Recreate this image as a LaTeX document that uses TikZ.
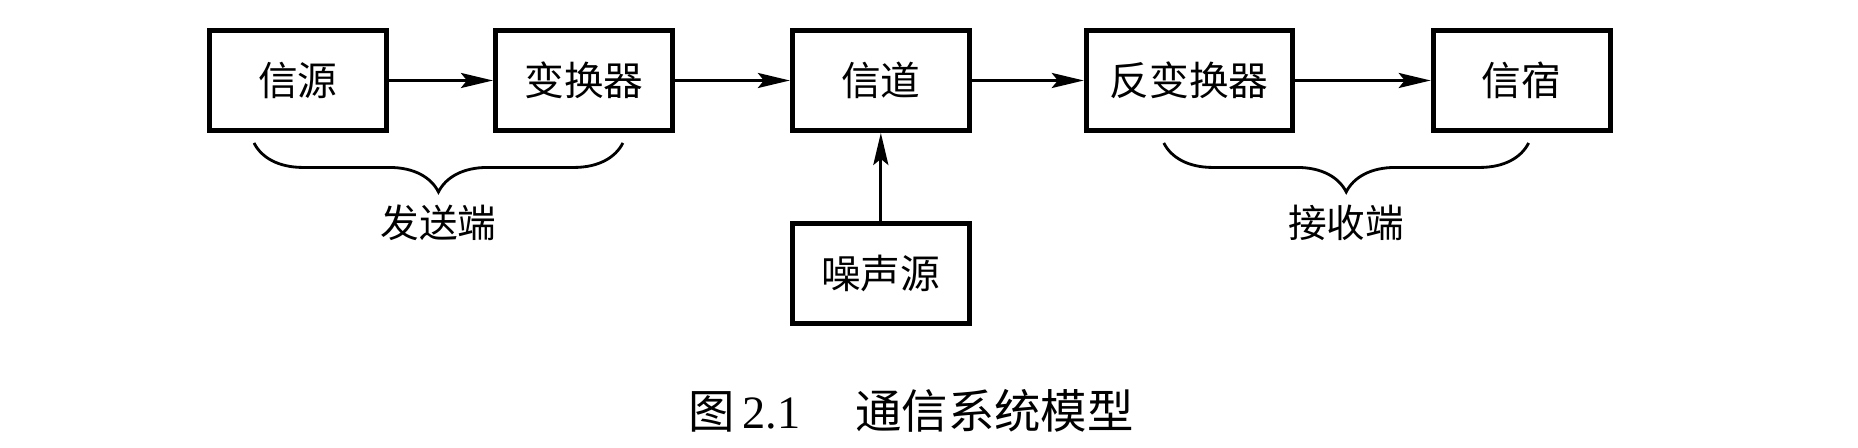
\documentclass[tikz,border=0pt]{standalone}
\usepackage{fontspec}
\setmainfont{Liberation Serif}
\newfontfamily\cjk{Noto Sans CJK SC}
\usepackage{tikz}
\usetikzlibrary{arrows.meta,positioning,decorations.pathreplacing}

\begin{document}
\begin{tikzpicture}[
  font=\cjk\fontsize{11.3}{13}\selectfont,
  box/.style={draw, line width=1.4pt, align=center, inner sep=2pt,
              minimum height=10mm, minimum width=17.7mm},
  arr/.style={-{Stealth[length=3.2mm, width=1.5mm, inset=0.6mm]}, line width=0.85pt},
  brc/.style={decorate, decoration={brace, mirror, amplitude=4.9mm}, line width=0.8pt},
  note/.style={font=\cjk\fontsize{11}{13}\selectfont}
]
\useasboundingbox (0,0) rectangle (18.58,4.48);

\node[box] (src) at (2.98,3.675) {信源};
\node[box, right=10.4mm of src] (conv) {变换器};
\node[box, right=11.5mm of conv] (chan) {信道};
\node[box, right=11.2mm of chan, minimum width=20.6mm] (inv) {反变换器};
\node[box, right=13.6mm of inv] (sink) {信宿};
\node[box, below=8.8mm of chan] (noise) {噪声源};

\draw[arr] (src) -- (conv);
\draw[arr] (conv) -- (chan);
\draw[arr] (chan) -- (inv);
\draw[arr] (inv) -- (sink);
\draw[arr] (noise) -- (chan);

\draw[brc] ([xshift=4.7mm, yshift=-1mm]src.south west) -- ([xshift=-5.2mm, yshift=-1mm]conv.south east)
  node[note, midway, yshift=-8mm] (send) {发送端};
\draw[brc] ([xshift=8mm, yshift=-1mm]inv.south west) -- ([xshift=-8.4mm, yshift=-1mm]sink.south east)
  node[note, midway, yshift=-8mm] (recv) {接收端};

\node[font=\fontsize{13.2}{15}\selectfont] (cap) at (9.11,0.37)
  {{\cjk 图}\,2.1\hspace{5.5mm}{\cjk 通信系统模型}};
\end{tikzpicture}
\end{document}
